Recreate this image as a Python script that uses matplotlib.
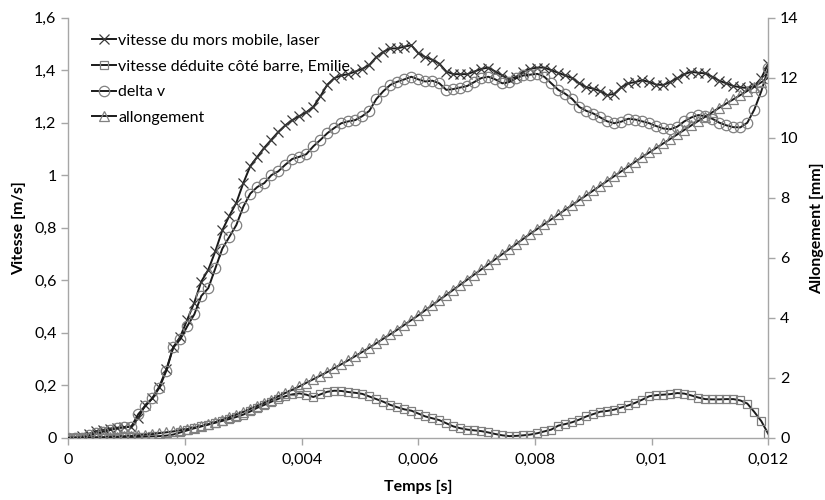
import matplotlib
matplotlib.use('Agg')
import matplotlib.pyplot as plt
from matplotlib.ticker import FuncFormatter, MultipleLocator
import numpy as np

plt.rcParams['font.family'] = ['Lato', 'DejaVu Sans']

# pas de temps 0.00012 s, 101 points
step = 0.00012
n_pts = 101

# vitesse du mors mobile, laser [m/s]
v_laser = [
    0.00, 0.00, 0.005, 0.015, 0.025, 0.03, 0.035, 0.038, 0.04, 0.042,
    0.075, 0.125, 0.15, 0.195, 0.26, 0.345, 0.385, 0.45, 0.515, 0.595,
    0.64, 0.71, 0.79, 0.845, 0.895, 0.97, 1.035, 1.07, 1.105, 1.135,
    1.165, 1.19, 1.21, 1.225, 1.24, 1.26, 1.30, 1.345, 1.37, 1.38,
    1.385, 1.395, 1.405, 1.42, 1.45, 1.47, 1.483, 1.483, 1.49, 1.495,
    1.465, 1.45, 1.44, 1.425, 1.395, 1.385, 1.385, 1.385, 1.395, 1.405,
    1.41, 1.395, 1.38, 1.365, 1.375, 1.395, 1.405, 1.41, 1.41, 1.40,
    1.39, 1.38, 1.37, 1.35, 1.335, 1.33, 1.32, 1.305, 1.31, 1.335,
    1.35, 1.355, 1.362, 1.355, 1.345, 1.344, 1.355, 1.37, 1.385, 1.394,
    1.39, 1.388, 1.375, 1.36, 1.35, 1.34, 1.335, 1.332, 1.34, 1.37,
    1.425,
]

# vitesse deduite cote barre, Emilie [m/s]
v_barre = [
    0, 0, 0, 0, 0, 0, 0, 0, 0.001, 0.002,
    0.003, 0.004, 0.005, 0.006, 0.008, 0.012, 0.02, 0.028, 0.036, 0.043,
    0.05, 0.057, 0.064, 0.071, 0.079, 0.088, 0.1, 0.114, 0.125, 0.137,
    0.148, 0.158, 0.165, 0.169, 0.164, 0.155, 0.165, 0.175, 0.179, 0.178,
    0.174, 0.171, 0.167, 0.157, 0.147, 0.137, 0.125, 0.116, 0.108, 0.103,
    0.092, 0.081, 0.074, 0.067, 0.055, 0.043, 0.036, 0.031, 0.028, 0.025,
    0.02, 0.014, 0.009, 0.006, 0.007, 0.009, 0.012, 0.017, 0.024, 0.031,
    0.046, 0.052, 0.059, 0.069, 0.081, 0.09, 0.099, 0.102, 0.107, 0.115,
    0.123, 0.133, 0.145, 0.158, 0.162, 0.164, 0.166, 0.17, 0.168, 0.161,
    0.153, 0.147, 0.146, 0.146, 0.147, 0.147, 0.142, 0.13, 0.098, 0.063,
    0.014,
]

# delta v [m/s]
delta_v = [
    0, 0, 0.0, 0.01, 0.017, 0.022, 0.03, 0.036, 0.04, 0.042,
    0.09, 0.12, 0.15, 0.19, 0.255, 0.345, 0.375, 0.425, 0.47, 0.54,
    0.57, 0.645, 0.72, 0.765, 0.81, 0.88, 0.93, 0.955, 0.97, 1.0,
    1.015, 1.04, 1.062, 1.07, 1.08, 1.11, 1.134, 1.16, 1.18, 1.198,
    1.205, 1.21, 1.225, 1.245, 1.29, 1.32, 1.344, 1.356, 1.365, 1.375,
    1.365, 1.357, 1.36, 1.35, 1.325, 1.328, 1.334, 1.34, 1.355, 1.37,
    1.375, 1.365, 1.35, 1.355, 1.37, 1.38, 1.383, 1.386, 1.375, 1.35,
    1.325, 1.31, 1.29, 1.26, 1.245, 1.235, 1.22, 1.205, 1.198, 1.204,
    1.215, 1.212, 1.205, 1.198, 1.187, 1.178, 1.175, 1.185, 1.205, 1.22,
    1.229, 1.225, 1.215, 1.2, 1.19, 1.183, 1.182, 1.2, 1.25, 1.32,
    1.407,
]

# allongement [mm]
allong = [
    0, 0, 0.005, 0.01, 0.015, 0.02, 0.03, 0.04, 0.05, 0.06,
    0.08, 0.1, 0.12, 0.15, 0.18, 0.21, 0.25, 0.29, 0.34, 0.39,
    0.45, 0.52, 0.6, 0.68, 0.77, 0.86, 0.96, 1.06, 1.16, 1.27,
    1.38, 1.49, 1.6, 1.71, 1.83, 1.95, 2.07, 2.19, 2.32, 2.45,
    2.58, 2.72, 2.86, 3.0, 3.15, 3.3, 3.45, 3.6, 3.76, 3.92,
    4.08, 4.25, 4.42, 4.59, 4.76, 4.93, 5.1, 5.27, 5.44, 5.61,
    5.78, 5.95, 6.12, 6.29, 6.46, 6.63, 6.8, 6.96, 7.12, 7.28,
    7.44, 7.6, 7.76, 7.92, 8.08, 8.24, 8.4, 8.56, 8.72, 8.88,
    9.04, 9.2, 9.36, 9.51, 9.66, 9.81, 9.96, 10.11, 10.26, 10.41,
    10.56, 10.7, 10.85, 11.0, 11.14, 11.28, 11.42, 11.56, 11.7, 11.85,
    12.0,
]

temps = np.arange(n_pts) * step

labels = ['vitesse du mors mobile, laser',
          'vitesse déduite côté barre, Emilie',
          'delta v',
          'allongement']

LINE = '#1a1a1a'
MK = '#808080'
AXC = '#a6a6a6'


def fmt(v, pos):
    return f"{v:g}".replace('.', ',')


fig = plt.figure(figsize=(8.25, 5), dpi=100)
ax = fig.add_axes([0.0828, 0.1246, 0.8485, 0.84])
ax2 = ax.twinx()

common = dict(color=LINE, linewidth=1.4, markersize=6.5, markerfacecolor='none')
h1, = ax.plot(temps, v_laser, marker='x', markeredgecolor='#3a3a3a',
              markeredgewidth=0.9, label=labels[0], **dict(common, markersize=7))
h2, = ax.plot(temps, v_barre, marker='s', markeredgecolor=MK,
              markeredgewidth=0.9, label=labels[1], **dict(common, markersize=6))
h3, = ax.plot(temps, delta_v, marker='o', markeredgecolor=MK,
              markeredgewidth=0.9, label=labels[2], **dict(common, markersize=7.5))
h4, = ax2.plot(temps, allong, marker='^', markeredgecolor=MK,
               markeredgewidth=0.9, label=labels[3], **common)

ax.set_xlim(0, 0.012)
ax.set_ylim(0, 1.6)
ax2.set_ylim(0, 14)
ax.xaxis.set_major_locator(MultipleLocator(0.002))
ax.yaxis.set_major_locator(MultipleLocator(0.2))
ax2.yaxis.set_major_locator(MultipleLocator(2))
ax.xaxis.set_major_formatter(FuncFormatter(fmt))
ax.yaxis.set_major_formatter(FuncFormatter(fmt))
ax2.yaxis.set_major_formatter(FuncFormatter(fmt))

for a in (ax, ax2):
    a.spines['top'].set_visible(False)
    for s in ('left', 'right', 'bottom'):
        a.spines[s].set_color(AXC)
        a.spines[s].set_linewidth(1.0)
    a.tick_params(colors=AXC, labelcolor='#000000', labelsize=11.5,
                  length=5, width=1.0, direction='out')
ax.spines['right'].set_visible(False)
ax2.spines['left'].set_visible(False)
ax2.spines['bottom'].set_visible(False)
ax.tick_params(axis='x', pad=6)

ax.set_xlabel('Temps [s]', fontsize=11.5, fontweight='bold', labelpad=9)
ax.set_ylabel('Vitesse [m/s]', fontsize=11.5, fontweight='bold', labelpad=6)
ax2.set_ylabel('Allongement [mm]', fontsize=11.5, fontweight='bold', labelpad=8)

leg = ax.legend(handles=[h1, h2, h3, h4], loc='upper left',
                bbox_to_anchor=(0.02, 0.985), frameon=False, fontsize=11.5,
                handlelength=1.5, handletextpad=0.15, labelspacing=0.72,
                borderaxespad=0.2)

plt.savefig('out.png', dpi=100)
plt.close(fig)
